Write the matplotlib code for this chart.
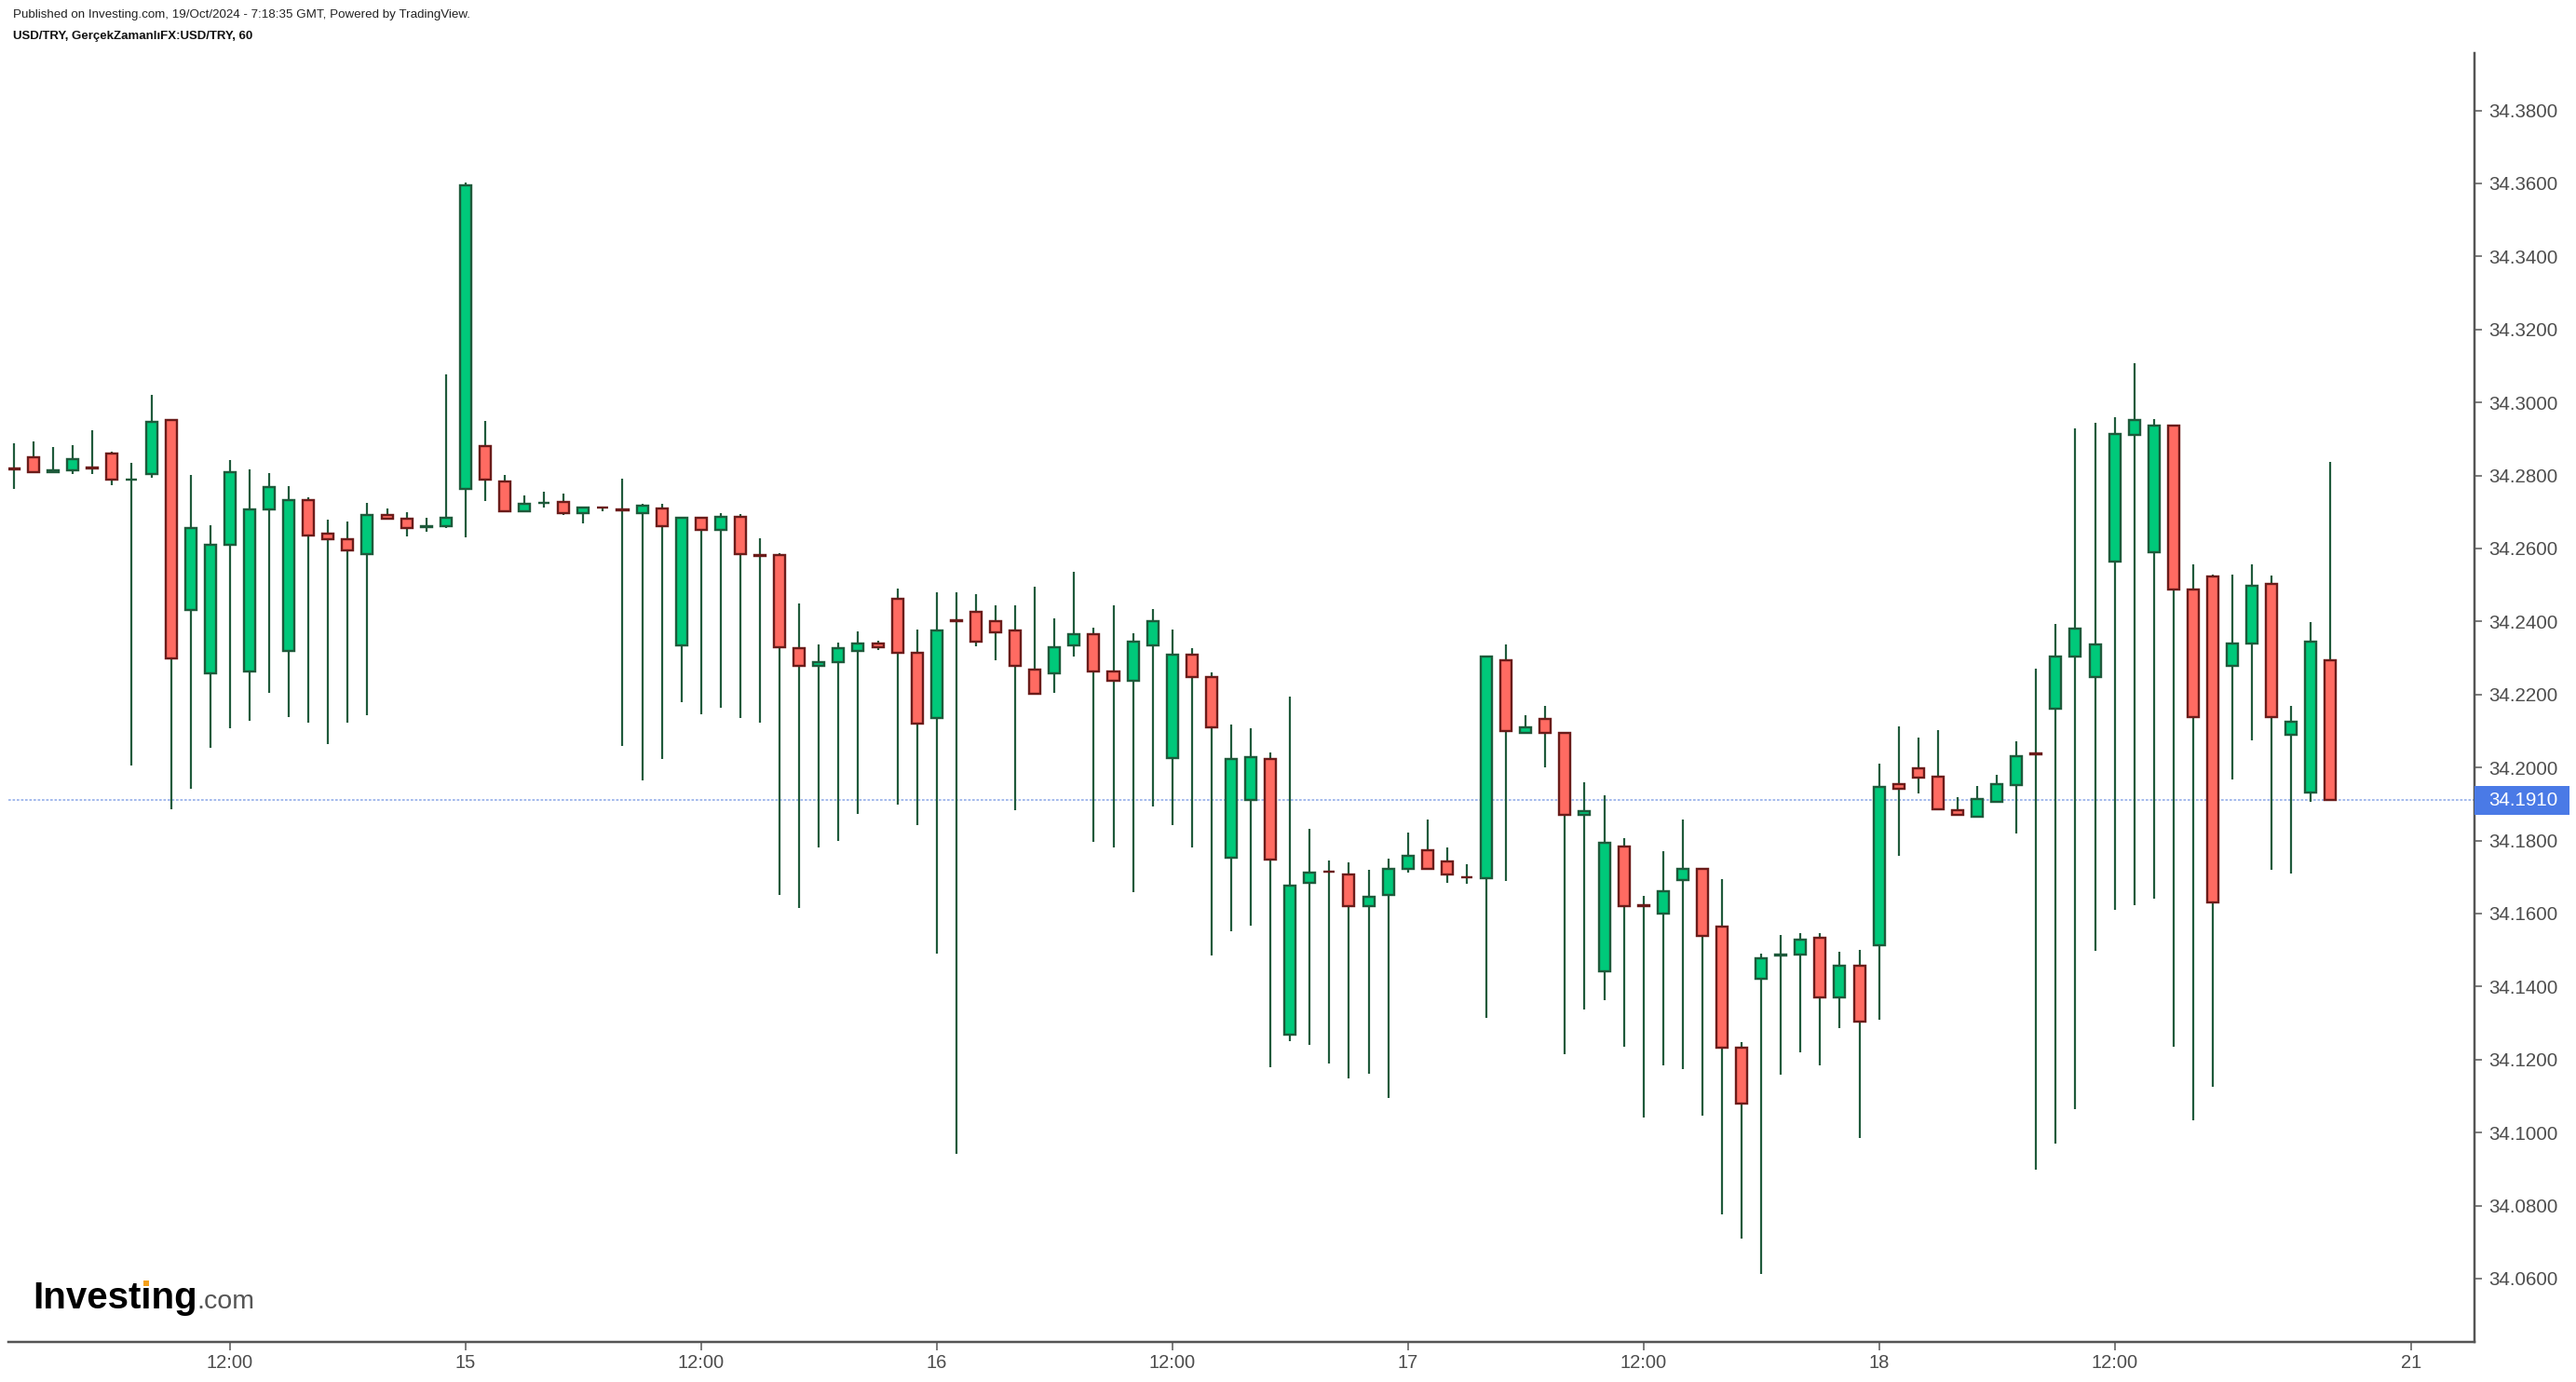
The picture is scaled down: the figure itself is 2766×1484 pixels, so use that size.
import matplotlib
matplotlib.use("Agg")
import matplotlib.pyplot as plt
import matplotlib.transforms as mtransforms
from matplotlib.patches import Rectangle
import numpy as np

plt.rcParams['font.family'] = ['Liberation Sans', 'DejaVu Sans']

# ---------------- data (USD/TRY, 60 min candles) ----------------
opens = [34.2820, 34.2851, 34.2810, 34.2814, 34.2821, 34.2861, 34.2789, 34.2804, 34.2953, 34.2431,
         34.2258, 34.2610, 34.2263, 34.2707, 34.2319, 34.2733, 34.2642, 34.2626, 34.2585, 34.2693,
         34.2682, 34.2659, 34.2661, 34.2763, 34.2881, 34.2784, 34.2703, 34.2725, 34.2728, 34.2697,
         34.2713, 34.2707, 34.2698, 34.2709, 34.2334, 34.2683, 34.2652, 34.2687, 34.2582, 34.2582,
         34.2326, 34.2279, 34.2288, 34.2319, 34.2341, 34.2463, 34.2314, 34.2136, 34.2403, 34.2427,
         34.2402, 34.2376, 34.2269, 34.2258, 34.2335, 34.2366, 34.2264, 34.2238, 34.2335, 34.2027,
         34.2310, 34.2249, 34.1753, 34.1910, 34.2024, 34.1268, 34.1683, 34.1716, 34.1708, 34.1620,
         34.1650, 34.1722, 34.1774, 34.1744, 34.1700, 34.1696, 34.2295, 34.2095, 34.2132, 34.2096,
         34.1870, 34.1441, 34.1784, 34.1622, 34.1599, 34.1692, 34.1723, 34.1565, 34.1233, 34.1421,
         34.1485, 34.1488, 34.1534, 34.1370, 34.1458, 34.1513, 34.1954, 34.1999, 34.1974, 34.1882,
         34.1866, 34.1907, 34.1952, 34.2038, 34.2160, 34.2305, 34.2248, 34.2564, 34.2911, 34.2590,
         34.2936, 34.2488, 34.2523, 34.2279, 34.2340, 34.2504, 34.2090, 34.1931, 34.2293]
highs = [34.2888, 34.2893, 34.2878, 34.2883, 34.2924, 34.2866, 34.2835, 34.3021, 34.2953, 34.2801,
         34.2664, 34.2842, 34.2817, 34.2807, 34.2771, 34.2739, 34.2679, 34.2674, 34.2725, 34.2709,
         34.2699, 34.2685, 34.3076, 34.3602, 34.2949, 34.2802, 34.2745, 34.2755, 34.2751, 34.2712,
         34.2714, 34.2792, 34.2723, 34.2723, 34.2683, 34.2683, 34.2698, 34.2694, 34.2627, 34.2587,
         34.2450, 34.2337, 34.2343, 34.2373, 34.2347, 34.2490, 34.2378, 34.2480, 34.2480, 34.2475,
         34.2444, 34.2444, 34.2495, 34.2408, 34.2535, 34.2383, 34.2444, 34.2368, 34.2435, 34.2378,
         34.2327, 34.2260, 34.2118, 34.2108, 34.2041, 34.2194, 34.1832, 34.1745, 34.1740, 34.1720,
         34.1751, 34.1822, 34.1858, 34.1781, 34.1735, 34.2305, 34.2337, 34.2143, 34.2169, 34.2096,
         34.1960, 34.1924, 34.1807, 34.1648, 34.1771, 34.1858, 34.1723, 34.1694, 34.1249, 34.1490,
         34.1541, 34.1546, 34.1546, 34.1495, 34.1500, 34.2011, 34.2113, 34.2082, 34.2103, 34.1918,
         34.1949, 34.1980, 34.2072, 34.2271, 34.2393, 34.2929, 34.2945, 34.2960, 34.3107, 34.2955,
         34.2936, 34.2557, 34.2529, 34.2529, 34.2557, 34.2526, 34.2169, 34.2399, 34.2837]
lows = [34.2762, 34.2809, 34.2810, 34.2803, 34.2803, 34.2773, 34.2006, 34.2793, 34.1885, 34.1941,
        34.2053, 34.2108, 34.2129, 34.2205, 34.2139, 34.2124, 34.2063, 34.2124, 34.2144, 34.2682,
        34.2634, 34.2645, 34.2655, 34.2630, 34.2731, 34.2703, 34.2703, 34.2711, 34.2692, 34.2670,
        34.2701, 34.2060, 34.1966, 34.2023, 34.2180, 34.2145, 34.2165, 34.2136, 34.2124, 34.1650,
        34.1614, 34.1782, 34.1798, 34.1873, 34.2323, 34.1899, 34.1843, 34.1491, 34.0941, 34.2333,
        34.2293, 34.1884, 34.2202, 34.2205, 34.2303, 34.1797, 34.1782, 34.1659, 34.1894, 34.1843,
        34.1782, 34.1486, 34.1552, 34.1568, 34.1180, 34.1251, 34.1241, 34.1190, 34.1149, 34.1160,
        34.1094, 34.1711, 34.1722, 34.1685, 34.1681, 34.1313, 34.1690, 34.2095, 34.2000, 34.1216,
        34.1338, 34.1363, 34.1236, 34.1042, 34.1185, 34.1175, 34.1047, 34.0776, 34.0710, 34.0613,
        34.1159, 34.1221, 34.1185, 34.1287, 34.0986, 34.1308, 34.1757, 34.1929, 34.1886, 34.1870,
        34.1866, 34.1907, 34.1819, 34.0899, 34.0971, 34.1063, 34.1497, 34.1609, 34.1624, 34.1640,
        34.1236, 34.1034, 34.1126, 34.1967, 34.2074, 34.1721, 34.1710, 34.1907, 34.1910]
closes = [34.2817, 34.2809, 34.2813, 34.2846, 34.2819, 34.2788, 34.2790, 34.2948, 34.2300, 34.2657,
          34.2611, 34.2810, 34.2708, 34.2769, 34.2733, 34.2636, 34.2625, 34.2595, 34.2693, 34.2682,
          34.2656, 34.2660, 34.2683, 34.3595, 34.2790, 34.2703, 34.2722, 34.2726, 34.2697, 34.2712,
          34.2712, 34.2705, 34.2718, 34.2662, 34.2683, 34.2652, 34.2687, 34.2585, 34.2580, 34.2330,
          34.2279, 34.2289, 34.2326, 34.2341, 34.2330, 34.2313, 34.2120, 34.2376, 34.2401, 34.2345,
          34.2371, 34.2279, 34.2202, 34.2330, 34.2366, 34.2263, 34.2238, 34.2346, 34.2402, 34.2310,
          34.2248, 34.2109, 34.2024, 34.2029, 34.1748, 34.1677, 34.1713, 34.1714, 34.1620, 34.1646,
          34.1723, 34.1759, 34.1722, 34.1707, 34.1699, 34.2305, 34.2099, 34.2111, 34.2095, 34.1870,
          34.1881, 34.1795, 34.1621, 34.1620, 34.1662, 34.1723, 34.1539, 34.1232, 34.1079, 34.1478,
          34.1487, 34.1529, 34.1370, 34.1458, 34.1304, 34.1947, 34.1942, 34.1973, 34.1886, 34.1870,
          34.1915, 34.1954, 34.2030, 34.2035, 34.2305, 34.2381, 34.2336, 34.2913, 34.2952, 34.2936,
          34.2488, 34.2137, 34.1631, 34.2339, 34.2498, 34.2137, 34.2125, 34.2345, 34.1910]

yticks = [34.06, 34.08, 34.10, 34.12, 34.14, 34.16, 34.18, 34.20, 34.22,
          34.24, 34.26, 34.28, 34.30, 34.32, 34.34, 34.36, 34.38]
xtick_pos = [11, 23, 35, 47, 59, 71, 83, 95, 107, 122.1]
xtick_labels = ["12:00", "15", "12:00", "16", "12:00", "17", "12:00", "18", "12:00", "21"]

title_line1 = "Published on Investing.com, 19/Oct/2024 - 7:18:35 GMT, Powered by TradingView."
title_line2 = "USD/TRY, GerçekZamanlıFX:USD/TRY, 60"

# ---------------- styling ----------------
UP_FILL, UP_EDGE = '#00c97a', '#1e5a3b'
DN_FILL, DN_EDGE = '#ff6b62', '#6b1c1a'
WICK = '#1f5a3b'
AXIS_COL = '#555555'
TXT_COL = '#4d4d4d'
PX = 72 / 100.0  # points per pixel

W, H = 2766, 1484
fig = plt.figure(figsize=(W / 100, H / 100), dpi=100)
fig.patch.set_facecolor('white')
ax = fig.add_axes([9 / W, 43 / H, 2648 / W, 1384 / H])

o = np.array(opens); h = np.array(highs); l = np.array(lows); c = np.array(closes)
x = np.arange(len(o))
up = c >= o

ax.vlines(x, l, h, color=WICK, linewidth=2.2 * PX, zorder=2)
bottoms = np.minimum(o, c)
heights = np.abs(c - o)
ax.bar(x[up], heights[up], bottom=bottoms[up], width=0.57,
       color=UP_FILL, edgecolor=UP_EDGE, linewidth=2.4 * PX, zorder=3)
ax.bar(x[~up], heights[~up], bottom=bottoms[~up], width=0.57,
       color=DN_FILL, edgecolor=DN_EDGE, linewidth=2.4 * PX, zorder=3)

last = closes[-1]
ax.axhline(last, color='#9db5ec', linewidth=1.8 * PX, linestyle=(0, (1.5, 1.0)), zorder=1)

ax.set_xlim(-0.285, 125.33)
ax.set_ylim(34.04265, 34.39571)

for s in ['left', 'top']:
    ax.spines[s].set_visible(False)
for s in ['right', 'bottom']:
    ax.spines[s].set_color(AXIS_COL)
    ax.spines[s].set_linewidth(2.5 * PX)

ax.yaxis.tick_right()
ax.set_yticks(yticks)
ax.set_yticklabels([f"{v:.4f}" for v in yticks])
ax.tick_params(axis='y', which='major', length=8 * PX, width=1.5 * PX, color=AXIS_COL,
               pad=7 * PX, labelsize=14.8, labelcolor=TXT_COL)
ax.set_xticks(xtick_pos)
ax.set_xticklabels(xtick_labels)
ax.tick_params(axis='x', which='major', length=9 * PX, width=1.5 * PX, color=AXIS_COL,
               pad=4 * PX, labelsize=14.5, labelcolor=TXT_COL)

# last price label
trans = mtransforms.blended_transform_factory(ax.transAxes, ax.transData)
box_h = 31 / 3920.0
ax.add_patch(Rectangle((1.0, last - box_h / 2), 102 / 2648, box_h, transform=trans,
                       facecolor='#4a7ae6', edgecolor='none', clip_on=False, zorder=5))
ax.text(1.0 + 15 / 2648, last, f"{last:.4f}", transform=trans, color='white',
        fontsize=14.8, va='center', ha='left', zorder=6, clip_on=False)

# header
fig.text(14 / W, 1 - 16 / H, title_line1, fontsize=9.6, color='#222222', va='center', ha='left')
fig.text(14 / W, 1 - 39 / H, title_line2, fontsize=9.5, color='#111111', va='center', ha='left',
         fontweight='bold')

# logo
base_y = 1 - 1405 / H
logo = fig.text(35 / W, base_y, "Investing", fontsize=29, fontweight='bold', color='black',
                va='baseline', ha='left')
fig.canvas.draw()
r = fig.canvas.get_renderer()
bb = logo.get_window_extent(r)
fig.text(bb.x1 / W, base_y, ".com", fontsize=20.5, color='#555555', va='baseline', ha='left')

# orange dot on the "i" of the logo
tmp = fig.text(35 / W, base_y, "Invest", fontsize=29, fontweight='bold', va='baseline', ha='left')
x_i0 = tmp.get_window_extent(r).x1
tmp.set_text("Investi")
x_i1 = tmp.get_window_extent(r).x1
tmp.remove()
em = 29 / 72 * 100
dot_w = (x_i1 - x_i0) * 0.55
dot_x = (x_i0 + x_i1) / 2 - dot_w / 2
dot_y = (1405 - 0.745 * em)
fig.patches.append(Rectangle((dot_x / W, 1 - (dot_y + 0.14 * em) / H), dot_w / W, 0.14 * em / H,
                             transform=fig.transFigure, facecolor='#f5a01a', edgecolor='none',
                             zorder=10))

fig.savefig("out.png", dpi=100, facecolor='white')
